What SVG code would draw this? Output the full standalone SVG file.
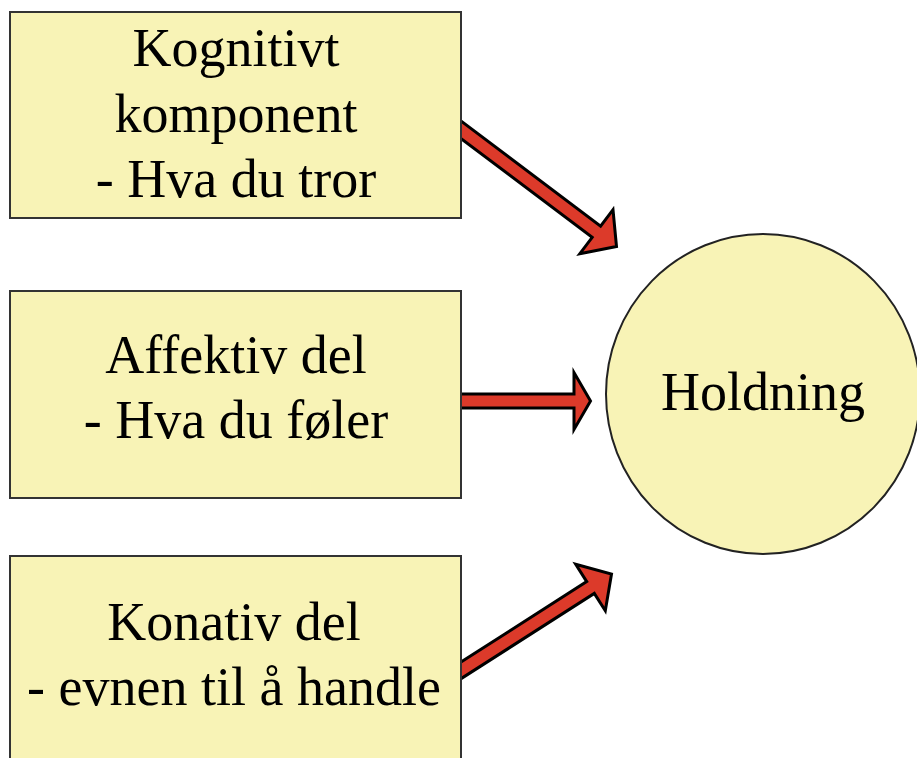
<svg xmlns="http://www.w3.org/2000/svg" width="917" height="758" viewBox="0 0 917 758">
<style>
.box{fill:#f8f3b6;stroke:#333;stroke-width:2}
.lbl{font-family:"Liberation Serif","Times New Roman",serif;font-size:54px;fill:#000;text-anchor:middle}
.arr{fill:#dc3a2a;stroke:#000;stroke-width:3;stroke-linejoin:miter}
</style>
<rect width="917" height="758" fill="#fff"/>
<g id="connectors">
<polygon class="arr" points="460.2,120.4 600.6,226.1 613.0,209.7 616.5,246.5 579.8,253.7 592.2,237.3 451.8,131.6"/>
<polygon class="arr" points="456,394 574,394 574,372.5 590.5,401 574,429.5 574,408 456,408"/>
<polygon class="arr" points="452.0,667.8 586.7,581.6 575.7,564.3 611.5,574 605.3,610.7 594.3,593.4 459.6,679.6"/>
</g>
<g id="kognitivt">
<rect class="box" x="10" y="12" width="451" height="206"/>
<text class="lbl" x="236" y="66">Kognitivt</text>
<text class="lbl" x="236" y="132">komponent</text>
<text class="lbl" x="236" y="197">- Hva du tror</text>
</g>
<g id="affektiv">
<rect class="box" x="10" y="291" width="451" height="207"/>
<text class="lbl" x="236" y="373">Affektiv del</text>
<text class="lbl" x="236" y="438">- Hva du føler</text>
</g>
<g id="konativ">
<rect class="box" x="10" y="556" width="451" height="220"/>
<text class="lbl" x="234" y="640">Konativ del</text>
<text class="lbl" x="234" y="705">- evnen til å handle</text>
</g>
<g id="holdning">
<ellipse cx="763" cy="394" rx="157" ry="160" fill="#f8f3b6" stroke="#222" stroke-width="2"/>
<text class="lbl" x="763" y="410" font-size="55">Holdning</text>
</g>
</svg>
